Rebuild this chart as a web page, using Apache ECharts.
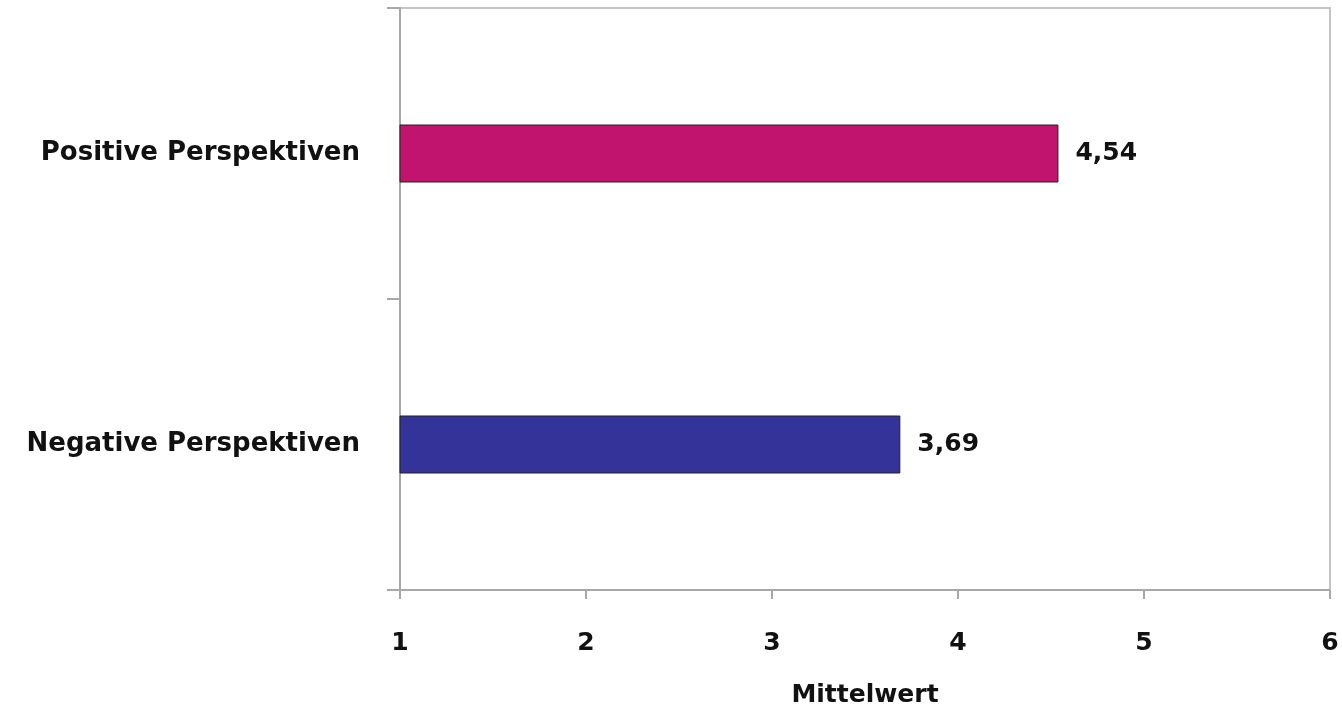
<!DOCTYPE html>
<html>
<head>
<meta charset="utf-8">
<script src="https://cdn.jsdelivr.net/npm/echarts@6/dist/echarts.min.js"></script>
<style>
  html, body { margin: 0; padding: 0; background: #fff; }
  #chart { width: 1342px; height: 713px; }
</style>
</head>
<body>
<div id="chart"></div>
<script>
// Mean ratings per perspective type
const categories = ['Positive Perspektiven', 'Negative Perspektiven'];
const means = [4.54, 3.69];
const barColors = ['#C0146E', '#333399'];
const axisTitle = 'Mittelwert';

const FONT = '"DejaVu Sans", "Open Sans", sans-serif';

const chart = echarts.init(document.getElementById('chart'));
chart.setOption({
  animation: false,
  backgroundColor: '#ffffff',
  grid: {
    left: 400, right: 12, top: 8, bottom: 120,
    show: true, borderColor: '#c4c4c4', borderWidth: 2
  },
  xAxis: {
    type: 'value',
    min: 1, max: 6, interval: 1,
    name: axisTitle,
    nameLocation: 'middle',
    nameGap: 93,
    nameTextStyle: { fontFamily: FONT, fontWeight: 'bold', fontSize: 25, color: '#111' },
    axisLine: { show: true, lineStyle: { color: '#a8a8a8', width: 2 } },
    axisTick: { show: true, length: 9, lineStyle: { color: '#a8a8a8', width: 2 } },
    splitLine: { show: false },
    axisLabel: {
      margin: 41,
      fontFamily: FONT, fontWeight: 'bold', fontSize: 25, color: '#111',
      formatter: v => String(v)
    }
  },
  yAxis: {
    type: 'category',
    data: categories,
    inverse: true,
    axisLine: { show: true, lineStyle: { color: '#a8a8a8', width: 2 } },
    axisTick: { show: true, length: 13, lineStyle: { color: '#a8a8a8', width: 2 } },
    axisLabel: {
      margin: 40,
      fontFamily: FONT, fontWeight: 'bold', fontSize: 26, color: '#111'
    }
  },
  series: [{
    type: 'bar',
    data: means.map((v, i) => ({ value: v, itemStyle: { color: barColors[i] } })),
    barWidth: 58,
    itemStyle: { borderColor: '#222', borderWidth: 1 },
    label: {
      show: true, position: 'right', distance: 17,
      fontFamily: FONT, fontWeight: 'bold', fontSize: 25, color: '#111',
      formatter: p => p.value.toFixed(2).replace('.', ',')
    }
  }]
});
</script>
</body>
</html>
